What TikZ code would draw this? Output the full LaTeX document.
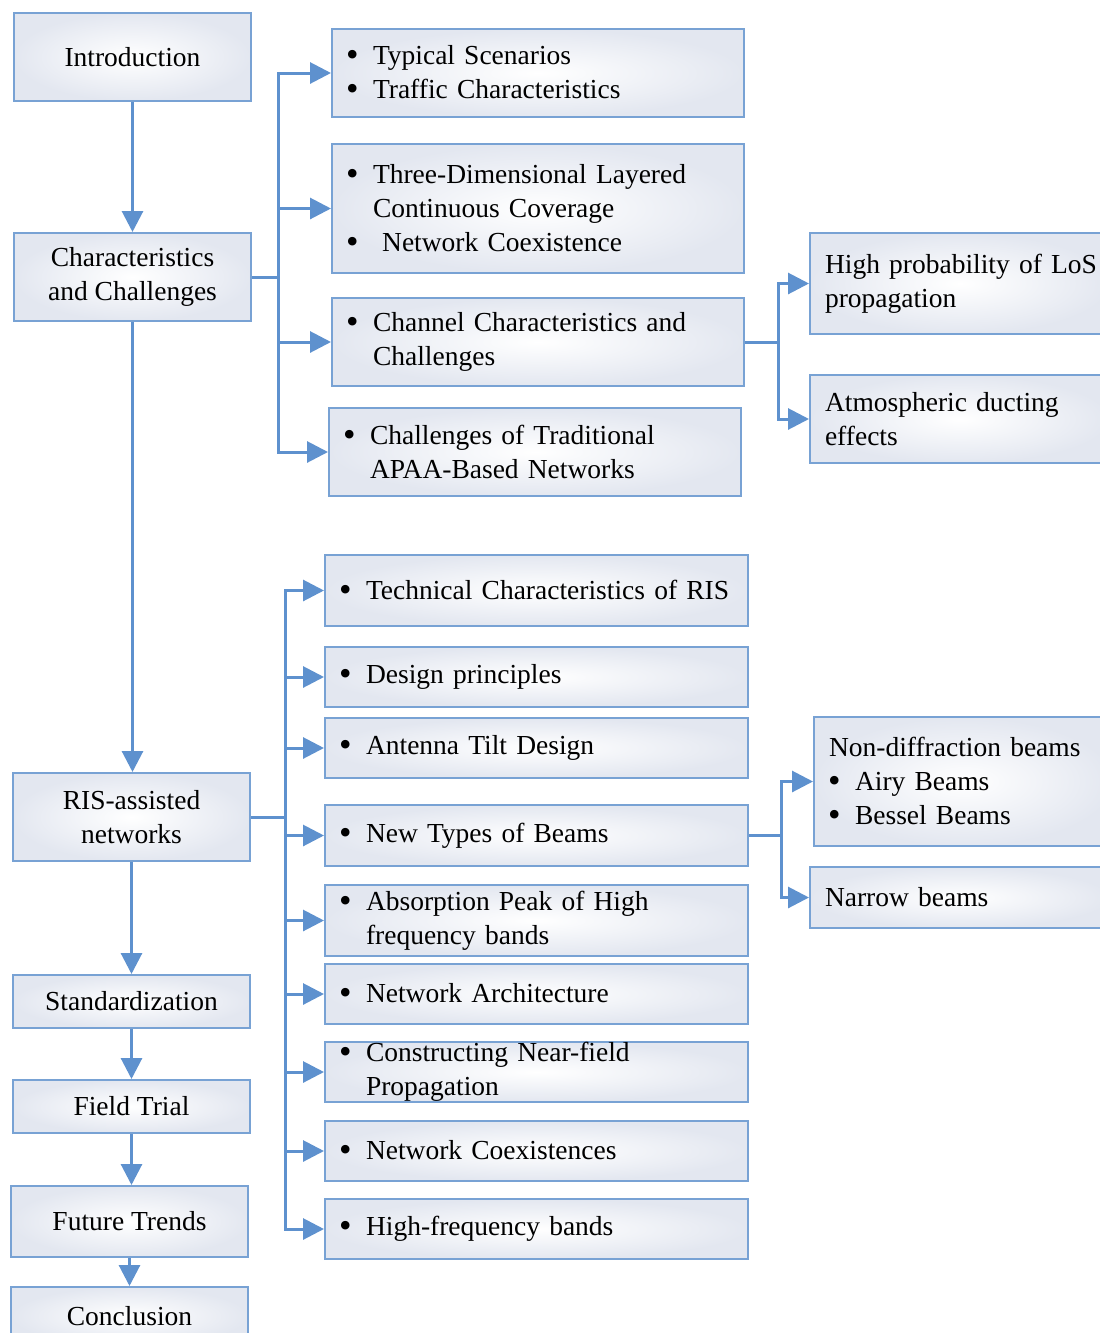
\documentclass[tikz,border=0pt]{standalone}
\usepackage{fontspec}
\setmainfont{Liberation Serif}
\usetikzlibrary{arrows.meta}
\definecolor{lineblue}{RGB}{94,145,206}
\definecolor{edgeblue}{RGB}{120,162,212}
\definecolor{shadeout}{RGB}{227,231,240}
\newcommand{\bl}{\hspace*{14pt}\makebox[27pt][l]{\raisebox{-2pt}{\scalebox{1.3}{\textbullet}}}}
\newcommand{\ind}{\hspace*{41pt}}
\newcommand{\pad}{\hspace*{15pt}}
\begin{document}
\begin{tikzpicture}[x=1pt,y=-1pt,
 base/.style={draw=edgeblue, line width=2pt, inner color=white, outer color=shadeout,
   font=\fontsize{27.5}{34}\selectfont, anchor=north west, inner sep=0pt},
 leftbox/.style={base, minimum width=237pt, align=center},
 listbox/.style={base, align=left},
 arr/.style={draw=lineblue, line width=3pt, -{Triangle[length=21pt,width=21pt]}},
 conn/.style={draw=lineblue, line width=3pt}
]
\useasboundingbox (0,0) rectangle (1100,1333);
\clip (0,0) rectangle (1100,1333);

% left column
\node[leftbox, minimum height=88pt] (intro) at (13,12) {Introduction};
\node[leftbox, minimum height=88pt] (char) at (13,232) {Characteristics\\and Challenges};
\node[leftbox, minimum height=88pt] (ris) at (12,772) {RIS-assisted\\networks};
\node[leftbox, minimum height=53pt] (std) at (12,974) {Standardization};
\node[leftbox, minimum height=53pt] (ft) at (12,1079) {Field Trial};
\node[leftbox, minimum height=71pt] (fut) at (10,1185) {Future Trends};
\node[leftbox, minimum height=58pt] (conc) at (10,1286) {Conclusion};

% upper middle
\node[listbox, text width=412pt, minimum height=88pt] (ts) at (331,28) {\bl Typical Scenarios\\\bl Traffic Characteristics};
\node[listbox, text width=412pt, minimum height=129pt] (td) at (331,143) {\bl Three-Dimensional Layered\\\ind Continuous Coverage\\\bl\ Network Coexistence};
\node[listbox, text width=412pt, minimum height=88pt] (cc) at (331,297) {\bl Channel Characteristics and\\\ind Challenges};
\node[listbox, text width=412pt, minimum height=88pt] (ct) at (328,407) {\bl Challenges of Traditional\\\ind APAA-Based Networks};

% upper right
\node[listbox, text width=300pt, minimum height=101pt] (hp) at (809,232) {\pad High probability of LoS\\\pad propagation};
\node[listbox, text width=300pt, minimum height=88pt] (ad) at (809,374) {\pad Atmospheric ducting\\\pad effects};

% lower middle
\node[listbox, text width=423pt, minimum height=71pt] (tech) at (324,554) {\bl Technical Characteristics of RIS};
\node[listbox, text width=423pt, minimum height=60pt] (des) at (324,646) {\bl Design principles};
\node[listbox, text width=423pt, minimum height=60pt] (ant) at (324,717) {\bl Antenna Tilt Design};
\node[listbox, text width=423pt, minimum height=61pt] (new) at (324,804) {\bl New Types of Beams};
\node[listbox, text width=423pt, minimum height=71pt] (abs) at (324,884) {\bl Absorption Peak of High\\\ind frequency bands};
\node[listbox, text width=423pt, minimum height=60pt] (na) at (324,963) {\bl Network Architecture};
\node[listbox, text width=423pt, minimum height=60pt] (cons) at (324,1041) {\bl Constructing Near-field\\\ind Propagation};
\node[listbox, text width=423pt, minimum height=60pt] (coex) at (324,1120) {\bl Network Coexistences};
\node[listbox, text width=423pt, minimum height=60pt] (hf) at (324,1198) {\bl High-frequency bands};

% lower right
\node[listbox, text width=300pt, minimum height=129pt] (nd) at (813,716) {\pad Non-diffraction beams\\\bl Airy Beams\\\bl Bessel Beams};
\node[listbox, text width=300pt, minimum height=61pt] (nb) at (809,866) {\pad Narrow beams};

% left column arrows
\draw[arr] (intro.south) -- (intro.south |- char.north);
\draw[arr] (char.south) -- (char.south |- ris.north);
\draw[arr] (ris.south) -- (ris.south |- std.north);
\draw[arr] (std.south) -- (std.south |- ft.north);
\draw[arr] (ft.south) -- (ft.south |- fut.north);
\draw[arr] (fut.south) -- (fut.south |- conc.north);

% buses
\coordinate (b1) at ([xshift=26pt]char.east);
\draw[conn] (char.east) -- (b1);
\foreach \t in {ts,td,cc,ct} \draw[arr] (b1) |- (\t.west);

\coordinate (b2) at ([xshift=33pt]cc.east);
\draw[conn] (cc.east) -- (b2);
\foreach \t in {hp,ad} \draw[arr] (b2) |- (\t.west);

\coordinate (b3) at ([xshift=34pt]ris.east);
\draw[conn] (ris.east) -- (b3);
\foreach \t in {tech,des,ant,new,abs,na,cons,coex,hf} \draw[arr] (b3) |- (\t.west);

\coordinate (b4) at ([xshift=32pt]new.east);
\draw[conn] (new.east) -- (b4);
\foreach \t in {nd,nb} \draw[arr] (b4) |- (\t.west);
\end{tikzpicture}
\end{document}
